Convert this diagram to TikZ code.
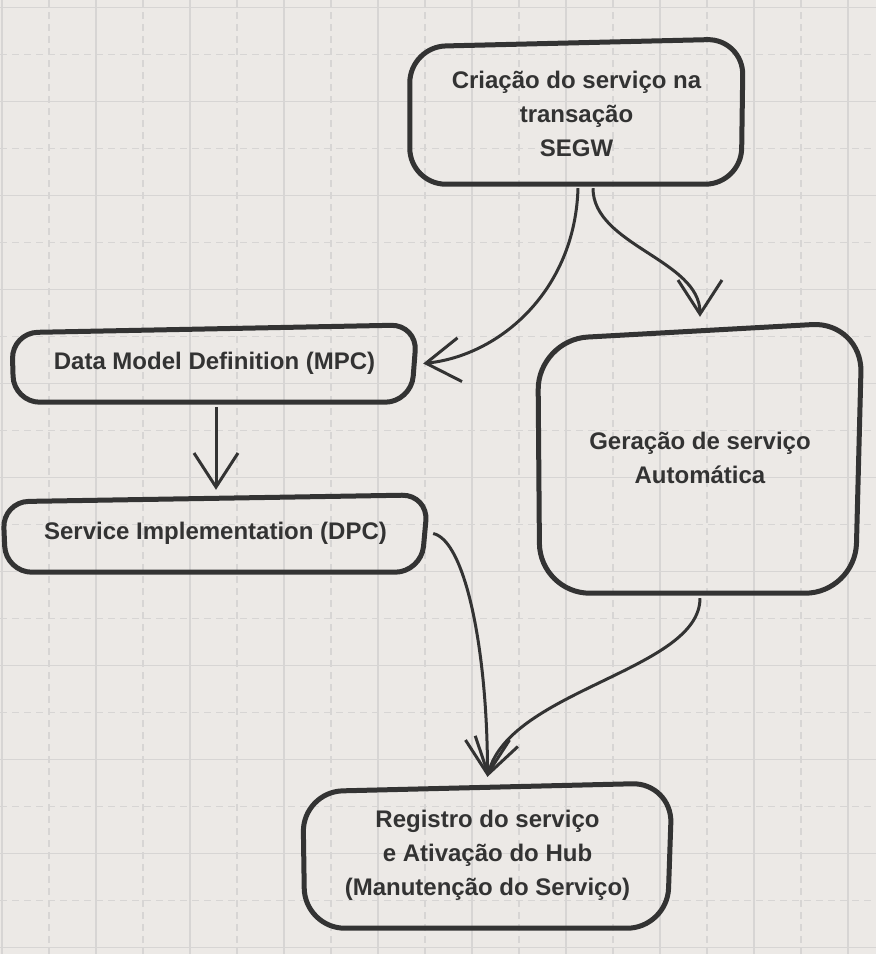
\documentclass[tikz,border=0pt]{standalone}
\usepackage{fontspec}
\setmainfont{Liberation Sans}
\usepackage{xcolor}
\usetikzlibrary{arrows.meta}
\definecolor{paper}{RGB}{236,233,230}
\definecolor{gridline}{RGB}{215,213,212}
\definecolor{ink}{RGB}{51,51,51}
\tikzset{
  box/.style={draw=none, inner sep=0pt, align=center, text=ink,
    font=\fontsize{24}{34}\selectfont\bfseries},
  outline/.style={draw=ink, line width=5pt, line join=round, rounded corners=#1},
  outline/.default=30pt,
  link/.style={draw=ink, line width=3pt,
    -{Straight Barb[length=34pt,width=44pt]}},
  gridmain/.style={draw=gridline, line width=1.5pt},
  gridhalf/.style={draw=gridline, line width=1.5pt, dash pattern=on 7pt off 5pt},
}

\begin{document}
\begin{tikzpicture}[x=1pt,y=-1pt]
  \useasboundingbox (0,0) rectangle (876,954);
  \fill[paper] (0,0) rectangle (876,954);

  % grid
  \foreach \x in {49,143,...,801} \draw[gridhalf] (\x,0) -- (\x,954);
  \foreach \y in {54.3,148.3,...,900.3} \draw[gridhalf] (0,\y) -- (876,\y);
  \foreach \x in {2,96,...,848} \draw[gridmain] (\x,0) -- (\x,954);
  \foreach \y in {7.3,101.3,...,947.3} \draw[gridmain] (0,\y) -- (876,\y);

  % boxes
  \node[box, minimum width=333pt, minimum height=141pt] (criacao) at (576.5,113.5)
    {Criação do serviço na\\transação\\SEGW};
  \node[box, minimum width=405pt, minimum height=77pt] (dmd) at (214.5,363.5)
    {Data Model Definition (MPC)};
  \node[box, minimum width=425pt, minimum height=77pt] (simp) at (215.5,533.5)
    {Service Implementation (DPC)};
  \node[box, minimum width=324pt, minimum height=271pt] (geracao) at (700,457.5)
    {Geração de serviço\\Automática};
  \node[box, minimum width=369pt, minimum height=145pt] (registro) at (487.5,855.5)
    {Registro do serviço\\e Ativação do Hub\\(Manutenção do Serviço)};

  % hand drawn outlines
  \draw[outline=36pt] ([yshift=-4pt]criacao.north west) -- ([yshift=4pt]criacao.north east)
    -- ([xshift=-2pt]criacao.south east) -- (criacao.south west) -- cycle;
  \draw[outline=26pt] ([yshift=-8pt]dmd.north west) -- (dmd.north east)
    -- ([xshift=-6pt]dmd.south east) -- ([xshift=2pt]dmd.south west) -- cycle;
  \draw[outline=26pt] ([yshift=-7pt]simp.north west) -- (simp.north east)
    -- ([xshift=-7pt]simp.south east) -- ([xshift=3pt]simp.south west) -- cycle;
  \draw[outline=50pt] ([yshift=-18pt]geracao.north west) -- (geracao.north east)
    -- ([xshift=-7pt]geracao.south east) -- ([xshift=2pt]geracao.south west) -- cycle;
  \draw[outline=40pt] ([yshift=-9pt]registro.north west) -- (registro.north east)
    -- ([xshift=-5pt]registro.south east) -- ([xshift=2pt]registro.south west) -- cycle;

  % connectors
  \draw[link] ([xshift=1.5pt,yshift=-4pt]criacao.south)
    .. controls +(-3,102) and +(77,-8) .. ([xshift=6pt]dmd.east);
  \draw[link] ([xshift=16.5pt,yshift=-4pt]criacao.south)
    .. controls +(0,57) and +(0,-57) .. ([yshift=5pt]geracao.north);
  \draw[link] ([xshift=1.5pt,yshift=-5pt]dmd.south) -- ([xshift=0.5pt,yshift=5pt]simp.north);
  \draw[link] ([xshift=5pt]simp.east)
    .. controls +(32,7) and +(0,-127) .. ([yshift=6pt]registro.north);
  \draw[link] ([yshift=-5pt]geracao.south)
    .. controls +(0,72) and +(22,-87) .. ([yshift=6pt]registro.north);
\end{tikzpicture}
\end{document}
